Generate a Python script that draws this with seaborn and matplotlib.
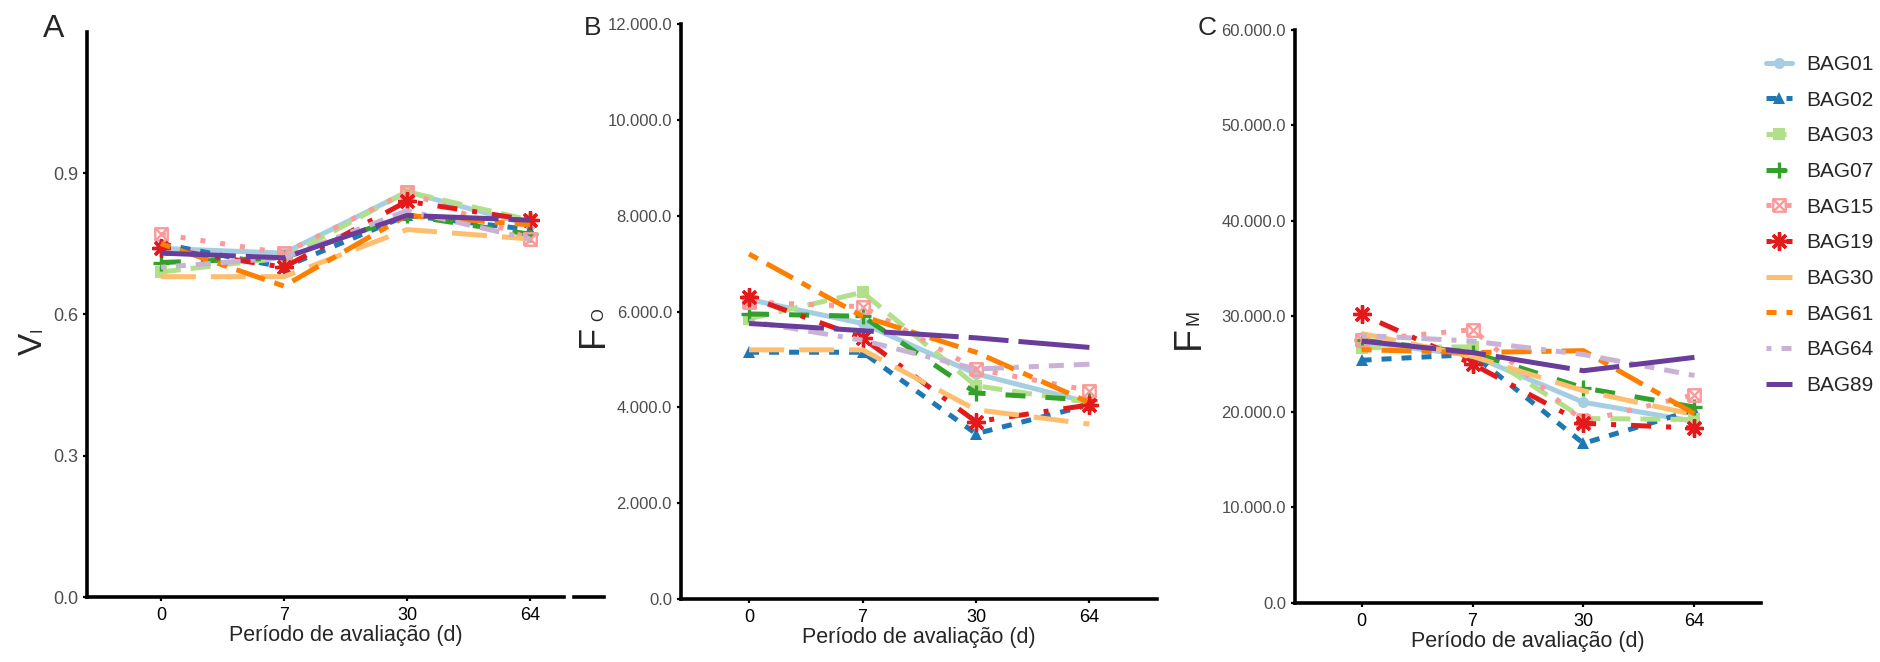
import matplotlib
matplotlib.use("Agg")
import matplotlib.pyplot as plt
import seaborn as sns
import pandas as pd
from matplotlib.path import Path
from matplotlib.ticker import FuncFormatter, FixedLocator
from matplotlib.lines import Line2D
from matplotlib.patches import Rectangle

# ---------------- data ----------------
periods = ["0", "7", "30", "64"]
bags = ["BAG01", "BAG02", "BAG03", "BAG07", "BAG15",
        "BAG19", "BAG30", "BAG61", "BAG64", "BAG89"]

# Panel A: V_I
vi = [
    [0.74, 0.73, 0.86, 0.79],   # BAG01
    [0.75, 0.70, 0.81, 0.78],   # BAG02
    [0.69, 0.72, 0.86, 0.80],   # BAG03
    [0.71, 0.72, 0.81, 0.77],   # BAG07
    [0.77, 0.73, 0.86, 0.76],   # BAG15
    [0.74, 0.70, 0.84, 0.80],   # BAG19
    [0.68, 0.68, 0.78, 0.76],   # BAG30
    [0.75, 0.66, 0.81, 0.79],   # BAG61
    [0.70, 0.72, 0.82, 0.76],   # BAG64
    [0.73, 0.72, 0.81, 0.80],   # BAG89
]
# Panel B: F_O
fo = [
    [6250, 5750, 4700, 4100],
    [5150, 5150, 3450, 4050],
    [5850, 6400, 4450, 4100],
    [5950, 5900, 4300, 4150],
    [6200, 6100, 4800, 4350],
    [6300, 5450, 3700, 4050],
    [5200, 5200, 3950, 3650],
    [7200, 5900, 5150, 4100],
    [5800, 5400, 4800, 4900],
    [5750, 5600, 5450, 5250],
]
# Panel C: F_M
fm = [
    [27300, 25900, 21000, 19000],
    [25400, 26000, 16700, 20200],
    [26700, 26800, 19300, 19200],
    [27500, 26200, 22500, 20500],
    [27500, 28600, 19000, 21800],
    [30200, 25000, 18800, 18300],
    [28200, 25800, 22200, 19700],
    [26500, 26200, 26400, 19800],
    [28000, 27400, 26000, 23800],
    [27400, 26200, 24300, 25700],
]

a_ticks = [0.0, 0.3, 0.6, 0.9]
b_ticks = [0, 2000, 4000, 6000, 8000, 10000, 12000]
c_ticks = [0, 10000, 20000, 30000, 40000, 50000, 60000]

# ---------------- style ----------------
sns.set_style("ticks")
plt.rcParams["font.family"] = ["Liberation Sans", "DejaVu Sans"]

colors = sns.color_palette("Paired", 10)
linestyles = ["solid", (0, (2, 2)), (0, (4, 2)), (0, (4, 4)), (0, (1, 3)),
              (0, (1, 3, 4, 3)), (0, (7, 3)), (0, (2, 2, 6, 2)),
              (0, (1, 2, 2, 2, 3, 2, 4, 2)), (0, (15, 2, 8, 2))]
square_x = Path([(-1, -1), (1, -1), (1, 1), (-1, 1), (-1, -1),
                 (-1, -1), (1, 1), (-1, 1), (1, -1)],
                [Path.MOVETO, Path.LINETO, Path.LINETO, Path.LINETO, Path.LINETO,
                 Path.MOVETO, Path.LINETO, Path.MOVETO, Path.LINETO])
markers = ["o", "^", "s", "+", square_x, (8, 2, 0), None, None, None, None]
msizes = [8, 9, 8, 12, 9, 13, 0, 0, 0, 0]
LW = 3.6

W, H = 1881, 662
fig = plt.figure(figsize=(W / 100, H / 100), dpi=100)


def px_axes(l, r, t, b):
    return fig.add_axes([l / W, 1 - b / H, (r - l) / W, (b - t) / H])


axA = px_axes(87, 604, 31.7, 597)
axB = px_axes(681, 1157.5, 24, 599)
axC = px_axes(1295, 1761, 29.5, 603)


def marker_kw(i):
    m = markers[i]
    c = colors[i]
    if m is None:
        return {}
    if m == "+" or isinstance(m, tuple):
        return dict(marker=m, markersize=msizes[i], mec=c, mfc=c, mew=2.4)
    if isinstance(m, Path):
        return dict(marker=m, markersize=msizes[i], mec=c, mfc="none", mew=1.7)
    return dict(marker=m, markersize=msizes[i], mec=c, mfc=c, mew=0)


def draw(ax, values):
    for i, bag in enumerate(bags):
        df = pd.DataFrame({"period": periods, "value": values[i]})
        kw = dict(color=colors[i], lw=LW, linestyle=linestyles[i], errorbar=None,
                  sort=False, label=bag, legend=False, ax=ax)
        kw.update(marker_kw(i))
        sns.lineplot(data=df, x="period", y="value", **kw)


draw(axA, vi)
draw(axB, fo)
draw(axC, fm)

fmt_a = FuncFormatter(lambda v, p: f"{v:.1f}")
fmt_k = FuncFormatter(lambda v, p: f"{v:,.1f}".replace(",", "."))

for ax, ylim, ticks, fmt, ysz in [(axA, (0, 1.2), a_ticks, fmt_a, 13),
                                  (axB, (0, 12000), b_ticks, fmt_k, 12),
                                  (axC, (0, 60000), c_ticks, fmt_k, 12)]:
    ax.set_xlim(-0.6, 3.6)
    ax.set_ylim(*ylim)
    ax.yaxis.set_major_locator(FixedLocator(ticks))
    ax.yaxis.set_major_formatter(fmt)
    for s in ("top", "right"):
        ax.spines[s].set_visible(False)
    for s in ("left", "bottom"):
        ax.spines[s].set_linewidth(2.6)
        ax.spines[s].set_color("black")
    ax.tick_params(axis="both", length=3, width=1.6, color="black")
    ax.tick_params(axis="y", labelsize=ysz, labelcolor="#4D4D4D", pad=3.5)
    ax.tick_params(axis="x", labelsize=13, labelcolor="black", pad=4)
    ax.set_xlabel("Período de avaliação (d)", fontsize=15.5, labelpad=1)
    ax.set_ylabel("")
    ax.set_facecolor("white")
    ax.grid(False)


def ftxt(x, y, s, **kw):
    fig.text(x / W, 1 - y / H, s, **kw)


# panel letters
ftxt(54, 29, "A", fontsize=23, ha="center", va="center")
ftxt(593, 28, "B", fontsize=19, ha="center", va="center")
ftxt(1207, 28, "C", fontsize=19, ha="center", va="center")

# y labels (big letter + small letter on same baseline)
rk = dict(rotation=90, rotation_mode="anchor", ha="center", va="baseline")
ftxt(42, 343.5, "V", fontsize=24, **rk)
ftxt(42, 330, "I", fontsize=12, **rk)
ftxt(603, 336, "F", fontsize=26, **rk)
ftxt(603, 315, "O", fontsize=12, **rk)
ftxt(1199, 337.5, "F", fontsize=27, **rk)
ftxt(1199, 317, "M", fontsize=13, **rk)

# small gap in panel A x-axis line
fig.add_artist(Rectangle((566 / W, 1 - 604 / H), 5 / W, 12 / H,
                         transform=fig.transFigure, color="white", zorder=20))

# legend
handles = []
for i, bag in enumerate(bags):
    kw = dict(color=colors[i], lw=LW, linestyle=linestyles[i])
    kw.update(marker_kw(i))
    handles.append(Line2D([], [], **kw))

fig.legend(handles, bags, loc="upper left", bbox_to_anchor=(1766 / W, 1 - 55 / H),
           frameon=False, fontsize=15, handlelength=1.25, handletextpad=0.7,
           labelspacing=0.8, borderpad=0, borderaxespad=0)

fig.savefig("out.png", dpi=100, facecolor="white")
